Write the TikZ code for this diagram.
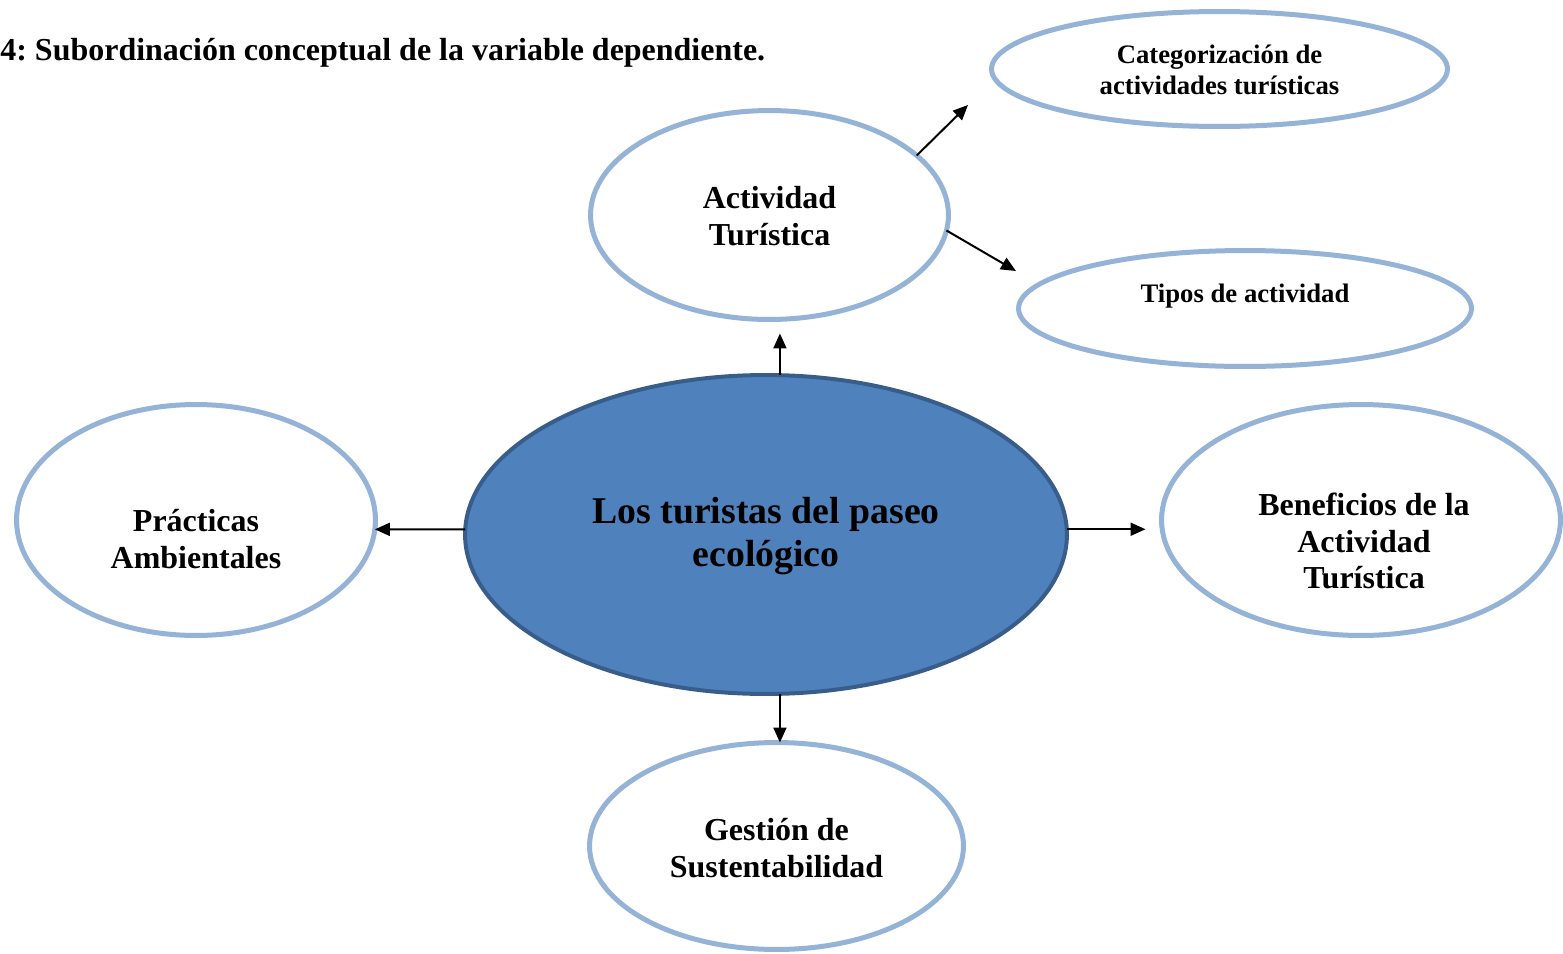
\documentclass[tikz,border=0pt]{standalone}
\usepackage{fontspec}
\setmainfont{Liberation Serif}
\frenchspacing
\usetikzlibrary{arrows.meta,shapes.geometric}
\definecolor{hubFill}{RGB}{79,129,189}
\definecolor{hubLine}{RGB}{56,93,138}
\definecolor{ringLine}{RGB}{149,179,215}
\tikzset{
    >={Triangle[length=0.3cm,width=0.26cm]},
    hub/.style={ellipse,draw=hubLine,fill=hubFill,line width=0.08cm,inner sep=0pt,outer sep=0pt},
    bubble/.style={ellipse,draw=ringLine,fill=white,line width=0.1cm,inner sep=0pt,outer sep=0pt},
    arrow/.style={->,line width=0.04cm,black},
    bigtext/.style={align=center,font=\bfseries\fontsize{21.5}{24.4}\selectfont},
    midtext/.style={align=center,font=\bfseries\fontsize{18.2}{21}\selectfont},
    smalltext/.style={align=center,font=\bfseries\fontsize{15.2}{17.3}\selectfont}
}

\begin{document}
\begin{tikzpicture}[x=0.02cm,y=-0.02cm]
  \useasboundingbox (0,0) rectangle (1563,954);

  \node[anchor=base west,inner sep=0pt,font=\bfseries\fontsize{18.2}{21}\selectfont] (title) at (0,60)
    {4: Subordinación conceptual de la variable dependiente.};

  % ellipses
  \node[hub,minimum width=12.04cm,minimum height=6.38cm] (main) at (766,534.5) {};
  \node[bubble,minimum width=7.16cm,minimum height=4.18cm] (act) at (769.5,215) {};
  \node[bubble,minimum width=9.12cm,minimum height=2.3cm] (cat) at (1219.5,69) {};
  \node[bubble,minimum width=9.06cm,minimum height=2.32cm] (tip) at (1245,308.5) {};
  \node[bubble,minimum width=7.18cm,minimum height=4.62cm] (prac) at (196,520) {};
  \node[bubble,minimum width=7.98cm,minimum height=4.62cm] (bene) at (1361,520) {};
  \node[bubble,minimum width=7.48cm,minimum height=4.14cm] (gest) at (776.5,846) {};

  % texts
  \node[bigtext] (mainText) at (766,536) {Los turistas del paseo\\ecológico};
  \node[midtext] (actText) at (769.5,216) {Actividad\\Turística};
  \node[smalltext] (catText) at (1219.5,70) {Categorización de\\actividades turísticas};
  \node[smalltext] (tipText) at (1245,296) {Tipos de actividad};
  \node[midtext] (pracText) at (196,539) {Prácticas\\Ambientales};
  \node[midtext] (beneText) at (1364,541) {Beneficios de la\\Actividad\\Turística};
  \node[midtext] (gestText) at (776.5,848) {Gestión de\\Sustentabilidad};

  % arrows
  \coordinate (catTip) at (968,105);
  \coordinate (tipTip) at (1016,271);
  \draw[arrow,shorten >=0.28cm] (main.85) -- (main.85 |- act.south);
  \draw[arrow] (main.-85) -- (main.-85 |- gest.north);
  \draw[arrow] (main.179) -- (prac.-3);
  \draw[arrow,shorten >=0.32cm] (main.1) -- (main.1 -| bene.west);
  \draw[arrow] (act.22.5) -- (catTip);
  \draw[arrow] (act.-5.6) -- (tipTip);
\end{tikzpicture}
\end{document}
